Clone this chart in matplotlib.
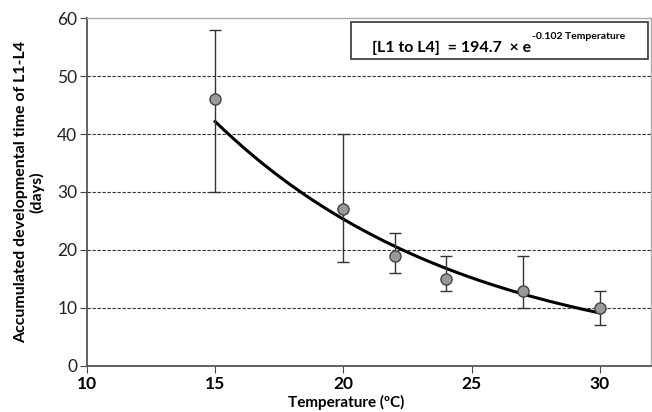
import matplotlib
matplotlib.use('Agg')
import matplotlib.pyplot as plt
import numpy as np

plt.rcParams['font.family'] = ['Lato', 'DejaVu Sans']

# 数据
temps = [15, 20, 22, 24, 27, 30]
days = [46, 27, 19, 15, 13, 10]
err_low = [16, 9, 3, 2, 3, 3]
err_high = [12, 13, 4, 4, 6, 3]
a, b = 194.7, -0.102

fig = plt.figure(figsize=(6.52, 4.12), dpi=100)
ax = fig.add_axes([0.1334, 0.112, 0.865, 0.844])

# 拟合曲线
tt = np.linspace(15, 30, 200)
ax.plot(tt, a * np.exp(b * tt), color='black', lw=2.2, zorder=3)

ax.errorbar(temps, days, yerr=[err_low, err_high], fmt='o', color='#333333',
            ecolor='#333333', elinewidth=1, capsize=4, capthick=1,
            markersize=8, markerfacecolor='#999999', markeredgecolor='#444444',
            markeredgewidth=1, zorder=4)

ax.set_xlim(10, 32)
ax.set_ylim(0, 60)
ax.set_xticks([10, 15, 20, 25, 30])
ax.set_yticks([0, 10, 20, 30, 40, 50, 60])
for y in [10, 20, 30, 40, 50]:
    ax.axhline(y, color='#333333', lw=0.8, ls=(0, (3, 1.5)), zorder=1)

ax.tick_params(axis='x', labelsize=12.5, length=5, color='#444444', pad=2)
ax.tick_params(axis='y', labelsize=12.5, length=5, color='#444444', pad=2,
               labelcolor='#222222')
for lab in ax.get_xticklabels():
    lab.set_fontweight('bold')
for s in ['left', 'bottom']:
    ax.spines[s].set_color('#555555')
    ax.spines[s].set_linewidth(1.3)
for s in ['top', 'right']:
    ax.spines[s].set_color('#aaaaaa')
    ax.spines[s].set_linewidth(1)

ax.set_xlabel('Temperature (ºC)', fontsize=11, fontweight='bold')
ax.xaxis.set_label_coords(0.46, -0.085)
ax.set_ylabel('Accumulated developmental time of L1-L4\n(days)', fontsize=11.5,
              fontweight='bold', linespacing=1.1)
ax.yaxis.set_label_coords(-0.075, 0.5)

# 公式框
ax.add_patch(plt.Rectangle((0.469, 0.882), 0.525, 0.107, transform=ax.transAxes,
                           fill=False, edgecolor='#333333', lw=1.2, zorder=5))
ax.text(0.505, 0.915, '[L1 to L4]  = 194.7  × e', transform=ax.transAxes,
        fontsize=11.5, fontweight='bold', va='center', ha='left')
ax.text(0.789, 0.948, '-0.102 Temperature', transform=ax.transAxes,
        fontsize=7.5, fontweight='bold', va='center', ha='left')

fig.savefig('out.png', dpi=100)
